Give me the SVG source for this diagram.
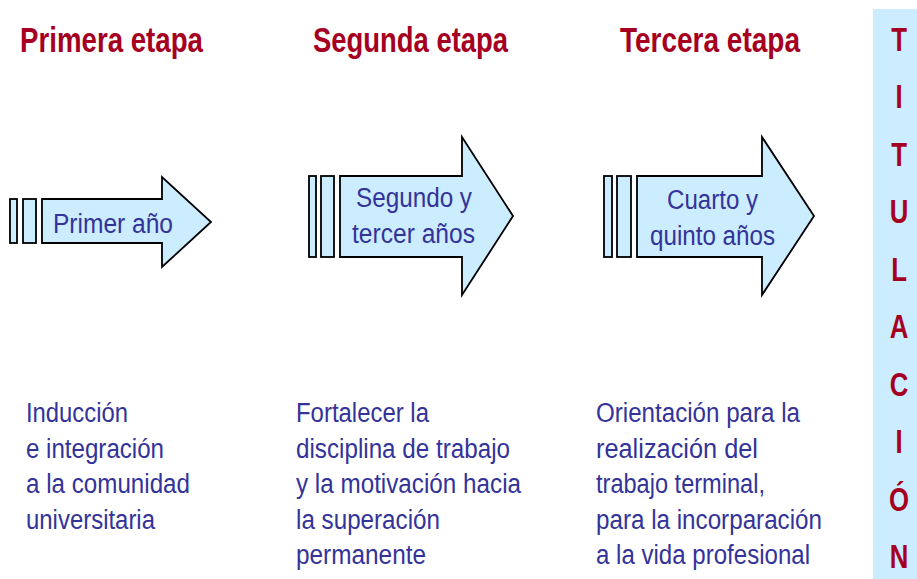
<svg xmlns="http://www.w3.org/2000/svg" width="917" height="579" viewBox="0 0 917 579">
<style>
.shape{fill:#CCECFF;stroke:#000;stroke-width:1.8;stroke-linejoin:miter}
.title{font-family:"Liberation Sans",Arial,sans-serif;font-weight:bold;font-size:35px;fill:#A50021}
.lbl{font-family:"Liberation Sans",Arial,sans-serif;font-size:27px;fill:#333399}
.desc{font-family:"Liberation Sans",Arial,sans-serif;font-size:27px;fill:#333399}
.tit{font-family:"Liberation Sans",Arial,sans-serif;font-weight:bold;font-size:33px;fill:#A50021;text-anchor:middle}
</style>
<rect width="917" height="579" fill="#fff"/>
<g id="titles">
<text class="title" x="20" y="52" textLength="183" lengthAdjust="spacingAndGlyphs">Primera etapa</text>
<text class="title" x="313" y="52" textLength="195" lengthAdjust="spacingAndGlyphs">Segunda etapa</text>
<text class="title" x="620" y="52" textLength="180" lengthAdjust="spacingAndGlyphs">Tercera etapa</text>
</g>
<g id="arrow1">
<rect class="shape" x="10" y="199" width="7" height="44"/>
<rect class="shape" x="23" y="199" width="13" height="44"/>
<path class="shape" d="M42,199 H162 V177 L211,222 L162,267 V243 H42 Z"/>
<text class="lbl" x="53" y="233" textLength="120" lengthAdjust="spacingAndGlyphs">Primer año</text>
</g>
<g id="arrow2">
<rect class="shape" x="309" y="176" width="7" height="81"/>
<rect class="shape" x="321" y="176" width="13" height="81"/>
<path class="shape" d="M340,176 H462 V137 L513,216 L462,295 V257 H340 Z"/>
<text class="lbl" x="356" y="207" textLength="116" lengthAdjust="spacingAndGlyphs">Segundo y</text>
<text class="lbl" x="352" y="243" textLength="123" lengthAdjust="spacingAndGlyphs">tercer años</text>
</g>
<g id="arrow3">
<rect class="shape" x="604" y="176" width="8" height="81"/>
<rect class="shape" x="617" y="176" width="14" height="81"/>
<path class="shape" d="M637,176 H762 V137 L814,216 L762,295 V257 H637 Z"/>
<text class="lbl" x="667" y="209" textLength="91" lengthAdjust="spacingAndGlyphs">Cuarto y</text>
<text class="lbl" x="650" y="245" textLength="125" lengthAdjust="spacingAndGlyphs">quinto años</text>
</g>
<g id="desc1">
<text class="desc" x="26" y="422" textLength="102" lengthAdjust="spacingAndGlyphs">Inducción</text>
<text class="desc" x="26" y="457.5" textLength="138" lengthAdjust="spacingAndGlyphs">e integración</text>
<text class="desc" x="26" y="493" textLength="164" lengthAdjust="spacingAndGlyphs">a la comunidad</text>
<text class="desc" x="26" y="528.5" textLength="129" lengthAdjust="spacingAndGlyphs">universitaria</text>
</g>
<g id="desc2">
<text class="desc" x="296" y="422" textLength="133" lengthAdjust="spacingAndGlyphs">Fortalecer la</text>
<text class="desc" x="296" y="457.5" textLength="214" lengthAdjust="spacingAndGlyphs">disciplina de trabajo</text>
<text class="desc" x="296" y="493" textLength="225" lengthAdjust="spacingAndGlyphs">y la motivación hacia</text>
<text class="desc" x="296" y="528.5" textLength="144" lengthAdjust="spacingAndGlyphs">la superación</text>
<text class="desc" x="296" y="564" textLength="130" lengthAdjust="spacingAndGlyphs">permanente</text>
</g>
<g id="desc3">
<text class="desc" x="596" y="422" textLength="204" lengthAdjust="spacingAndGlyphs">Orientación para la</text>
<text class="desc" x="596" y="457.5" textLength="162" lengthAdjust="spacingAndGlyphs">realización del</text>
<text class="desc" x="596" y="493" textLength="169" lengthAdjust="spacingAndGlyphs">trabajo terminal,</text>
<text class="desc" x="596" y="528.5" textLength="226" lengthAdjust="spacingAndGlyphs">para la incorparación</text>
<text class="desc" x="596" y="564" textLength="214" lengthAdjust="spacingAndGlyphs">a la vida profesional</text>
</g>
<g id="titulacion">
<rect x="873" y="9" width="44" height="570" fill="#CCECFF"/>
<g transform="translate(899,0) scale(0.78,1)">
<text class="tit" x="0" y="51">T</text>
<text class="tit" x="0" y="108.5">I</text>
<text class="tit" x="0" y="166">T</text>
<text class="tit" x="0" y="223.5">U</text>
<text class="tit" x="0" y="281">L</text>
<text class="tit" x="0" y="338.5">A</text>
<text class="tit" x="0" y="396">C</text>
<text class="tit" x="0" y="453.5">I</text>
<text class="tit" x="0" y="511">Ó</text>
<text class="tit" x="0" y="568.5">N</text>
</g>
</g>
</svg>
